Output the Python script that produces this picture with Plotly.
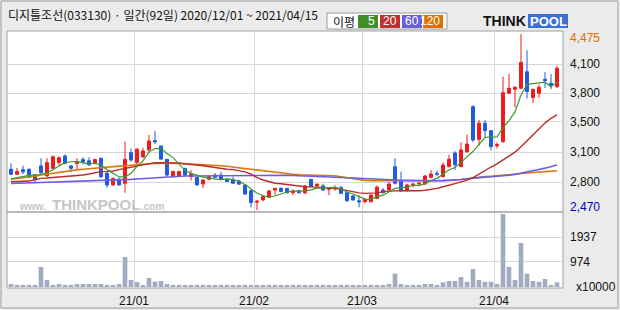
import plotly.graph_objects as go

# ---------------- data ----------------
title_text = "디지틀조선(033130) · 일간(92일) 2020/12/01 ~ 2021/04/15"

opens = [2934, 2877, 2930, 2934, 2869, 2972, 2858, 2945, 3010, 3085,
         2972, 3000, 3045, 3030, 3002, 3060, 2890, 2755, 2820, 2775,
         3123, 3010, 3077, 3155, 3260, 3200, 3048, 2850, 2858, 2945,
         2850, 2840, 2767, 2820, 2869, 2869, 2820, 2812, 2800, 2755,
         2690, 2560, 2585, 2615, 2698, 2717, 2717, 2667, 2690, 2667,
         2820, 2745, 2745, 2705, 2710, 2725, 2667, 2630, 2575, 2565,
         2565, 2604, 2698, 2698, 2963, 2800, 2690, 2755, 2770, 2767,
         2843, 2888, 2850, 2965, 3120, 2965, 3135, 3647, 3275, 3458,
         3375, 3200, 3248, 3800, 3845, 3857, 4045, 3750, 3800, 3960,
         3915, 3875]
highs = [3002, 2950, 2975, 2945, 2880, 3060, 3060, 3090, 3080, 3105,
         2980, 3060, 3070, 3070, 3050, 3060, 2910, 2840, 2840, 3248,
         3170, 3175, 3180, 3325, 3370, 3200, 3050, 2915, 2910, 2945,
         2925, 2850, 2820, 2860, 2890, 2905, 2830, 2850, 2815, 2760,
         2700, 2585, 2640, 2700, 2720, 2730, 2720, 2705, 2700, 2755,
         2820, 2770, 2770, 2730, 2750, 2745, 2670, 2640, 2640, 2600,
         2645, 2750, 2720, 2790, 3060, 2907, 2770, 2775, 2790, 2870,
         2925, 2920, 3015, 3100, 3140, 3240, 3330, 3665, 3495, 3495,
         3375, 3240, 3990, 4020, 3880, 4475, 4290, 3850, 3900, 4040,
         4020, 4115]
lows = [2869, 2870, 2880, 2843, 2793, 2880, 2850, 2940, 2980, 2990,
        2900, 2925, 2990, 2970, 2990, 2835, 2725, 2750, 2750, 2667,
        3020, 2985, 3060, 3120, 3220, 3045, 2850, 2840, 2850, 2860,
        2805, 2750, 2720, 2810, 2840, 2810, 2790, 2775, 2760, 2640,
        2500, 2470, 2570, 2610, 2640, 2675, 2660, 2640, 2660, 2650,
        2735, 2725, 2690, 2640, 2690, 2655, 2560, 2580, 2500, 2545,
        2555, 2600, 2660, 2690, 2760, 2680, 2680, 2730, 2740, 2760,
        2830, 2855, 2845, 2955, 2926, 2955, 3120, 3245, 3200, 3300,
        3150, 3170, 3240, 3800, 3640, 3845, 3740, 3690, 3750, 3860,
        3845, 3860]
closes = [2877, 2910, 2905, 2843, 2820, 2895, 3010, 3077, 3065, 3002,
          2945, 3020, 3020, 2985, 3045, 2850, 2755, 2830, 2755, 3048,
          3040, 3163, 3143, 3257, 3248, 3050, 2869, 2910, 2910, 2869,
          2880, 2755, 2812, 2850, 2843, 2820, 2795, 2775, 2765, 2653,
          2555, 2570, 2622, 2687, 2717, 2680, 2667, 2687, 2667, 2745,
          2735, 2765, 2698, 2717, 2725, 2660, 2577, 2584, 2563, 2592,
          2641, 2730, 2667, 2766, 2775, 2687, 2755, 2765, 2775, 2858,
          2880, 2877, 2983, 3048, 2985, 3155, 3222, 3268, 3458, 3375,
          3192, 3215, 3807, 3857, 3868, 4153, 3820, 3845, 3868, 3945,
          3890, 4085]

ma5 = [2825, 2840, 2855, 2865, 2871, 2875, 2895, 2929, 2973, 3010,
       3020, 3022, 3010, 2994, 3003, 2984, 2931, 2893, 2847, 2848,
       2886, 2967, 3030, 3130, 3170, 3172, 3113, 3067, 2997, 2922,
       2888, 2865, 2845, 2833, 2828, 2816, 2824, 2817, 2800, 2762,
       2709, 2664, 2633, 2617, 2630, 2655, 2675, 2688, 2684, 2689,
       2700, 2720, 2722, 2732, 2728, 2713, 2675, 2653, 2622, 2595,
       2591, 2622, 2639, 2679, 2716, 2725, 2730, 2750, 2751, 2768,
       2807, 2831, 2875, 2929, 2955, 3010, 3079, 3136, 3218, 3296,
       3303, 3302, 3409, 3489, 3588, 3780, 3901, 3909, 3911, 3926,
       3874, 3927]
ma20 = [2793, 2795, 2797, 2800, 2815, 2831, 2835, 2840, 2848, 2855,
        2862, 2866, 2869, 2880, 2895, 2907, 2910, 2915, 2930, 2945,
        2964, 2972, 2985, 3000, 3009, 3010, 3009, 3008, 3005, 2995,
        2985, 2983, 2975, 2964, 2950, 2940, 2934, 2930, 2920, 2905,
        2880, 2840, 2812, 2790, 2775, 2770, 2760, 2748, 2740, 2736,
        2734, 2730, 2726, 2722, 2717, 2705, 2690, 2679, 2665, 2660,
        2660, 2665, 2680, 2687, 2688, 2690, 2688, 2688, 2690, 2695,
        2705, 2717, 2735, 2750, 2770, 2790, 2810, 2840, 2880, 2925,
        2960, 2995, 3040, 3085, 3130, 3190, 3260, 3330, 3400, 3460,
        3515, 3553]
ma60 = [2772, 2774, 2775, 2777, 2779, 2781, 2783, 2785, 2788, 2791,
        2793, 2795, 2797, 2799, 2801, 2803, 2805, 2808, 2811, 2815,
        2819, 2823, 2828, 2833, 2838, 2843, 2848, 2852, 2855, 2857,
        2858, 2859, 2860, 2861, 2862, 2863, 2864, 2865, 2866, 2867,
        2868, 2869, 2869, 2869, 2868, 2867, 2866, 2864, 2862, 2860,
        2857, 2854, 2851, 2848, 2845, 2842, 2838, 2835, 2831, 2827,
        2823, 2820, 2817, 2814, 2812, 2810, 2808, 2806, 2805, 2804,
        2804, 2804, 2805, 2807, 2812, 2818, 2826, 2834, 2840, 2845,
        2849, 2853, 2858, 2866, 2876, 2888, 2902, 2917, 2932, 2947,
        2965, 2983]
ma120 = [2820, 2828, 2835, 2845, 2855, 2869, 2880, 2890, 2901, 2912,
         2920, 2927, 2935, 2942, 2950, 2955, 2960, 2964, 2970, 2975,
         2982, 2990, 2994, 2997, 3000, 3001, 3002, 3002, 3002, 3000,
         2995, 2992, 2988, 2985, 2980, 2975, 2968, 2962, 2950, 2942,
         2934, 2925, 2915, 2905, 2896, 2888, 2882, 2877, 2872, 2870,
         2869, 2869, 2868, 2868, 2860, 2850, 2838, 2825, 2812, 2808,
         2804, 2803, 2803, 2803, 2803, 2803, 2803, 2803, 2803, 2803,
         2803, 2803, 2803, 2806, 2810, 2818, 2828, 2838, 2846, 2850,
         2855, 2862, 2868, 2874, 2880, 2888, 2893, 2898, 2903, 2908,
         2912, 2918]

volume = [116, 80, 80, 80, 80, 776, 272, 80, 116, 80,
          80, 116, 116, 116, 116, 116, 80, 80, 116, 1164,
          272, 190, 80, 350, 205, 233, 116, 80, 80, 40,
          80, 80, 40, 40, 40, 40, 40, 40, 40, 80,
          80, 40, 40, 40, 40, 40, 40, 40, 40, 40,
          40, 40, 40, 40, 40, 40, 40, 40, 40, 40,
          80, 80, 40, 116, 516, 116, 80, 40, 80, 116,
          116, 80, 180, 233, 233, 388, 205, 698, 272, 205,
          205, 116, 2830, 776, 272, 1707, 516, 233, 205, 310,
          80, 180]

month_first_index = [21, 41, 59, 81]
month_labels = ["21/01", "21/02", "21/03", "21/04"]

price_tick_labels = ["4,100", "3,800", "3,500", "3,100", "2,800"]
volume_tick_values = [1937, 974]
volume_tick_labels = ["1937", "974"]

legend_names = ["5", "20", "60", "120"]

# ---------------- styles / layout constants ----------------
W, H = 620, 310
price_grid_values = [4133, 3803, 3473, 3131, 2789]
RED = "#ee1c1c"
BLUE = "#1f5be2"
MA_COLORS = ["#3a9a2a", "#b82c2c", "#6a5ee0", "#e07810"]
LEGEND_BG = ["#3f8f28", "#c0302c", "#6a5fd8", "#e07000"]
GRID = "#d8d8d8"
FRAME = "#a0a0a0"

x = list(range(len(closes)))

def px(v):
    return v / W

def py(v):
    return 1 - v / H

fig = go.Figure()

fig.add_trace(go.Bar(
    x=x, y=volume, xaxis="x2", yaxis="y2",
    marker=dict(color="#a3abc2", line=dict(width=0)),
    width=0.78, hoverinfo="skip", showlegend=False))

for vals, col, w in zip([ma120, ma60, ma20, ma5], MA_COLORS[::-1], [1.6, 1.6, 1.4, 1.2]):
    fig.add_trace(go.Scatter(
        x=x, y=vals, mode="lines", line=dict(color=col, width=w),
        hoverinfo="skip", showlegend=False))

fig.add_trace(go.Candlestick(
    x=x, open=opens, high=highs, low=lows, close=closes,
    increasing=dict(line=dict(color=RED, width=1), fillcolor=RED),
    decreasing=dict(line=dict(color=BLUE, width=1), fillcolor=BLUE),
    whiskerwidth=0, showlegend=False))

x_range = [-0.667, 92.0]
grid_x = [m - 0.5 for m in month_first_index]

shapes = [
    dict(type="rect", xref="paper", yref="paper", x0=px(1), x1=px(618), y0=py(308), y1=py(1),
         line=dict(color="#9c9c9c", width=1), fillcolor="#ebebeb", layer="below"),
    dict(type="rect", xref="paper", yref="paper", x0=px(7), x1=px(563), y0=py(288), y1=py(31),
         line=dict(color=FRAME, width=1), fillcolor="white", layer="below"),
    dict(type="line", xref="paper", yref="paper", x0=px(7), x1=px(563), y0=py(212), y1=py(212),
         line=dict(color=FRAME, width=1.5), layer="above"),
    dict(type="rect", xref="paper", yref="paper", x0=px(327), x1=px(447), y0=py(29), y1=py(13),
         line=dict(color="#9a9a9a", width=1), fillcolor="white"),
    dict(type="rect", xref="paper", yref="paper", x0=px(528), x1=px(568), y0=py(28), y1=py(14),
         line=dict(width=0), fillcolor="#3b6fd6"),
]
legend_x = [(358, 378), (380, 400), (402, 422), (423, 443)]
annotations = []
for (a, b), col, name in zip(legend_x, LEGEND_BG, legend_names):
    shapes.append(dict(type="rect", xref="paper", yref="paper", x0=px(a), x1=px(b),
                       y0=py(28), y1=py(15), line=dict(width=0), fillcolor=col))
    annotations.append(dict(xref="paper", yref="paper", x=px(b - 1), y=py(21.5), xanchor="right",
                            yanchor="middle", text=name, showarrow=False,
                            font=dict(family="Liberation Sans", size=12, color="white")))

annotations += [
    dict(xref="paper", yref="paper", x=px(6), y=py(15), xanchor="left", yanchor="middle",
         text=title_text, showarrow=False,
         font=dict(family="Noto Sans CJK KR", size=12, color="#111111")),
    dict(xref="paper", yref="paper", x=px(331), y=py(21), xanchor="left", yanchor="middle",
         text="이평", showarrow=False,
         font=dict(family="Noto Sans CJK KR", size=12, color="#111111")),
    dict(xref="paper", yref="paper", x=px(528), y=py(21.5), xanchor="right", yanchor="middle",
         text="<b>THINK</b>", showarrow=False,
         font=dict(family="Liberation Sans", size=14, color="#111111")),
    dict(xref="paper", yref="paper", x=px(548), y=py(21.5), xanchor="center", yanchor="middle",
         text="<b>POOL</b>", showarrow=False,
         font=dict(family="Liberation Sans", size=13, color="white")),
    # watermark
    dict(xref="paper", yref="paper", x=px(48), y=py(206), xanchor="right", yanchor="middle",
         text="<b>www.</b>", showarrow=False,
         font=dict(family="Liberation Sans", size=10, color="#c6c6c6")),
    dict(xref="paper", yref="paper", x=px(50), y=py(204), xanchor="left", yanchor="middle",
         text="<b>THINKPOOL</b>", showarrow=False,
         font=dict(family="Liberation Sans", size=15, color="#c6c6c6")),
    dict(xref="paper", yref="paper", x=px(139), y=py(206), xanchor="left", yanchor="middle",
         text="<b>.com</b>", showarrow=False,
         font=dict(family="Liberation Sans", size=10, color="#c6c6c6")),
]

label_font = dict(family="Liberation Sans", size=12, color="#111111")
for v, t in zip(price_grid_values, price_tick_labels):
    annotations.append(dict(xref="paper", yref="y", x=px(568), y=v, xanchor="left",
                            yanchor="middle", text=t, showarrow=False, font=label_font))
annotations.append(dict(xref="paper", yref="y", x=px(568), y=max(highs), yshift=-4,
                        xanchor="left", yanchor="middle", text=f"{max(highs):,}", showarrow=False,
                        font=dict(family="Liberation Sans", size=12, color="#e07000")))
annotations.append(dict(xref="paper", yref="y", x=px(568), y=min(lows), yshift=3,
                        xanchor="left", yanchor="middle", text=f"{min(lows):,}", showarrow=False,
                        font=dict(family="Liberation Sans", size=12, color="#0000cc")))
for v, t in zip(volume_tick_values, volume_tick_labels):
    annotations.append(dict(xref="paper", yref="y2", x=px(568), y=v, xanchor="left",
                            yanchor="middle", text=t, showarrow=False, font=label_font))
annotations.append(dict(xref="paper", yref="paper", x=px(574), y=py(287), xanchor="left",
                        yanchor="middle", text="x10000", showarrow=False, font=label_font))

fig.update_layout(
    width=W, height=H, margin=dict(l=0, r=0, t=0, b=0),
    paper_bgcolor="#ebebeb", plot_bgcolor="rgba(0,0,0,0)",
    showlegend=False, hovermode=False,
    xaxis=dict(domain=[px(7), px(563)], range=x_range, tickvals=grid_x, showticklabels=False,
               showgrid=True, gridcolor=GRID, gridwidth=1, zeroline=False,
               rangeslider=dict(visible=False), fixedrange=True),
    xaxis2=dict(domain=[px(7), px(563)], range=x_range, tickvals=grid_x, ticktext=month_labels,
                showgrid=True, gridcolor=GRID, gridwidth=1, zeroline=False, anchor="y2",
                tickfont=dict(family="Liberation Sans", size=12, color="#111111"), ticks="",
                ticklabelstandoff=4),
    yaxis=dict(domain=[py(212), py(31)], range=[2447.6, 4509.2], tickvals=price_grid_values,
               showticklabels=False, showgrid=True, gridcolor=GRID, zeroline=False),
    yaxis2=dict(domain=[py(288), py(213)], range=[-38.8, 2871], tickvals=volume_tick_values,
                showticklabels=False, showgrid=True, gridcolor=GRID, zeroline=False),
    shapes=shapes, annotations=annotations,
)

fig.write_html("out.html")
